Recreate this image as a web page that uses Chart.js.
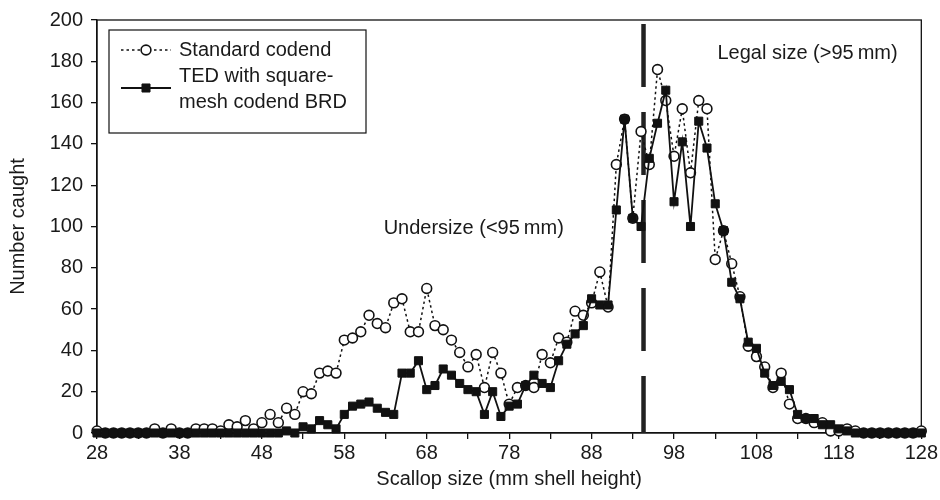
<!DOCTYPE html>
<html>
<head>
<meta charset="utf-8">
<script src="https://cdn.jsdelivr.net/npm/chart.js@4.4.1/dist/chart.umd.min.js"></script>
<style>
html, body { margin: 0; padding: 0; background: #fff; }
#wrap { width: 940px; height: 500px; }
</style>
</head>
<body>
<div id="wrap"><canvas id="chart"></canvas></div>
<script>
// shell height classes, 28..128 mm
const sizes = Array.from({ length: 101 }, (_, i) => 28 + i);

const standard = [
    1, 0, 0, 0, 0, 0, 0, 2, 0, 2,
    0, 0, 2, 2, 2, 1, 4, 3, 6, 2,
    5, 9, 5, 12, 9, 20, 19, 29, 30, 29,
    45, 46, 49, 57, 53, 51, 63, 65, 49, 49,
    70, 52, 50, 45, 39, 32, 38, 22, 39, 29,
    14, 22, 23, 22, 38, 34, 46, 44, 59, 57,
    63, 78, 61, 130, 152, 104, 146, 130, 176, 161,
    134, 157, 126, 161, 157, 84, 98, 82, 66, 42,
    37, 32, 22, 29, 14, 7, 7, 5, 5, 1,
    1, 2, 1, 0, 0, 0, 0, 0, 0, 0,
    1
];

const ted = [
    0, 0, 0, 0, 0, 0, 0, 0, 0, 0,
    0, 0, 0, 0, 0, 0, 0, 0, 0, 0,
    0, 0, 0, 1, 0, 3, 2, 6, 4, 2,
    9, 13, 14, 15, 12, 10, 9, 29, 29, 35,
    21, 23, 31, 28, 24, 21, 20, 9, 20, 8,
    13, 14, 23, 28, 24, 22, 35, 43, 48, 52,
    65, 62, 62, 108, 152, 104, 100, 133, 150, 166,
    112, 141, 100, 151, 138, 111, 98, 73, 65, 44,
    41, 29, 23, 25, 21, 9, 7, 7, 4, 4,
    2, 1, 0, 0, 0, 0, 0, 0, 0, 0,
    0
];

const xTicks = [28, 33, 38, 43, 48, 53, 58, 63, 68, 73, 78, 83, 88, 93, 98, 103, 108, 113, 118, 123, 128];
const xLabels = [28, 38, 48, 58, 68, 78, 88, 98, 108, 118, 128];
const yTicks = [0, 20, 40, 60, 80, 100, 120, 140, 160, 180, 200];
const cutLine = 94.3;   // 95 mm legal size line (as drawn)

Chart.defaults.font.family = "'Liberation Sans', Arial, Helvetica, sans-serif";
Chart.defaults.font.size = 20;
Chart.defaults.color = '#1a1a1a';

const ink = '#111';
const toXY = arr => arr.map((v, i) => ({ x: sizes[i], y: v }));

// frame, legend box and the two notes
const extras = {
    id: 'extras',
    beforeDatasetsDraw(chart) {
        const { ctx, chartArea: a } = chart;
        ctx.save();
        ctx.strokeStyle = ink;
        ctx.lineWidth = 1.3;
        ctx.strokeRect(a.left, a.top, a.right - a.left, a.bottom - a.top);
        ctx.restore();
    },
    afterDraw(chart) {
        const { ctx, chartArea: a, scales } = chart;
        const ds = chart.data.datasets;
        ctx.save();

        // legend
        const bx = a.left + 12, by = a.top + 10;
        ctx.fillStyle = '#fff';
        ctx.fillRect(bx, by, 257, 103);
        ctx.strokeStyle = ink;
        ctx.lineWidth = 1.2;
        ctx.setLineDash([]);
        ctx.strokeRect(bx, by, 257, 103);

        const rows = [
            { d: ds[0], y: by + 20, text: ['Standard codend'] },
            { d: ds[1], y: by + 58, text: ['TED with square-', 'mesh codend BRD'] }
        ];
        rows.forEach(r => {
            ctx.strokeStyle = r.d.borderColor;
            ctx.lineWidth = r.d.borderWidth;
            ctx.setLineDash(r.d.borderDash || []);
            ctx.beginPath();
            ctx.moveTo(bx + 12, r.y);
            ctx.lineTo(bx + 62, r.y);
            ctx.stroke();
            ctx.setLineDash([]);
            ctx.fillStyle = r.d.pointBackgroundColor;
            ctx.strokeStyle = r.d.pointBorderColor;
            ctx.lineWidth = r.d.pointBorderWidth;
            Chart.helpers.drawPoint(ctx, {
                pointStyle: r.d.pointStyle,
                radius: r.d.pointRadius,
                borderWidth: r.d.pointBorderWidth,
                rotation: 0
            }, bx + 37, r.y);
            ctx.fillStyle = '#1a1a1a';
            ctx.font = "20px 'Liberation Sans', Arial, sans-serif";
            ctx.textBaseline = 'middle';
            ctx.textAlign = 'left';
            r.text.forEach((t, k) => ctx.fillText(t, bx + 70, r.y - (r.text.length > 1 ? 12 : 0) + k * 26));
        });

        // notes
        ctx.textAlign = 'center';
        ctx.fillText('Undersize (<95\u2009mm)', scales.x.getPixelForValue(73.7), scales.y.getPixelForValue(99));
        ctx.fillText('Legal size (>95\u2009mm)', scales.x.getPixelForValue(114.2), scales.y.getPixelForValue(184));
        ctx.restore();
    }
};

new Chart(document.getElementById('chart'), {
    type: 'line',
    data: {
        datasets: [
            {
                label: 'Standard codend',
                data: toXY(standard),
                borderColor: ink,
                borderWidth: 1.5,
                borderDash: [2.5, 3],
                pointStyle: 'circle',
                pointRadius: 4.9,
                pointBorderWidth: 1.6,
                pointBackgroundColor: '#fff',
                pointBorderColor: ink,
                clip: false,
                order: 1
            },
            {
                label: 'TED with square-mesh codend BRD',
                data: toXY(ted),
                borderColor: ink,
                borderWidth: 1.8,
                pointStyle: 'rect',
                pointRadius: 5.7,
                pointBorderWidth: 1,
                pointBackgroundColor: ink,
                pointBorderColor: ink,
                clip: false,
                order: 0
            },
            {
                label: 'Legal size',
                data: [{ x: cutLine, y: 0 }, { x: cutLine, y: 200 }],
                borderColor: '#222',
                borderWidth: 4.5,
                borderDash: [63, 25],
                borderDashOffset: 6,
                pointRadius: 0,
                order: 2
            }
        ]
    },
    options: {
        responsive: true,
        maintainAspectRatio: false,
        animation: false,
        layout: {
            padding: { top: 19, right: 13, bottom: 9, left: 0 }
        },
        plugins: {
            legend: { display: false },
            tooltip: { enabled: false }
        },
        scales: {
            x: {
                type: 'linear',
                min: 28,
                max: 128,
                afterBuildTicks: scale => { scale.ticks = xTicks.map(v => ({ value: v })); },
                ticks: {
                    autoSkip: false,
                    maxRotation: 0,
                    padding: 2,
                    callback: v => xLabels.includes(v) ? String(v) : ''
                },
                grid: { drawOnChartArea: false, tickLength: 6, color: ink, lineWidth: 1.3 },
                border: { color: ink, width: 1.3 },
                title: { display: true, text: 'Scallop size (mm shell height)', padding: { top: 0, bottom: 0 } }
            },
            y: {
                min: 0,
                max: 200,
                afterBuildTicks: scale => { scale.ticks = yTicks.map(v => ({ value: v })); },
                afterFit: scale => { scale.width = 97; },
                ticks: { padding: 8 },
                grid: { drawOnChartArea: false, tickLength: 6, color: ink, lineWidth: 1.3 },
                border: { color: ink, width: 1.3 },
                title: { display: true, text: 'Number caught', padding: { top: 6, bottom: 0 } }
            }
        }
    },
    plugins: [extras]
});
</script>
</body>
</html>
